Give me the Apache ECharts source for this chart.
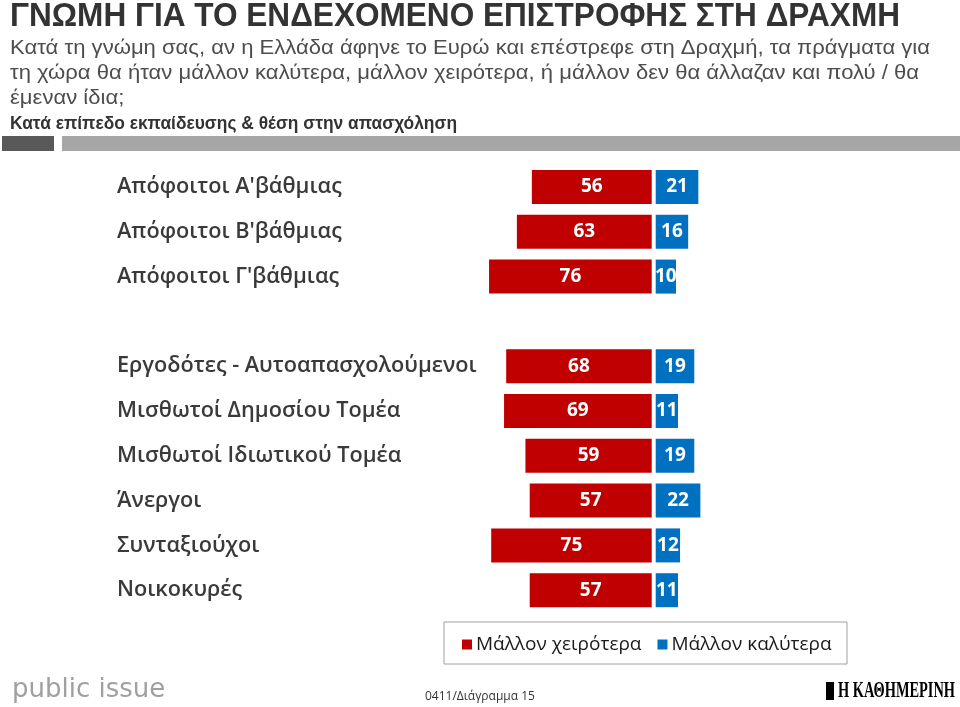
<!DOCTYPE html>
<html>
<head>
<meta charset="utf-8">
<script src="https://cdn.jsdelivr.net/npm/echarts@6/dist/echarts.min.js"></script>
<style>
html,body{margin:0;padding:0;background:#fff;}
#chart{width:960px;height:707px;}
</style>
</head>
<body>
<div id="chart"></div>
<script>
// ---- data ----
const categories = [
  "Απόφοιτοι Α'βάθμιας",
  "Απόφοιτοι Β'βάθμιας",
  "Απόφοιτοι Γ'βάθμιας",
  "",
  "Εργοδότες - Αυτοαπασχολούμενοι",
  "Μισθωτοί Δημοσίου Τομέα",
  "Μισθωτοί Ιδιωτικού Τομέα",
  "Άνεργοι",
  "Συνταξιούχοι",
  "Νοικοκυρές"
];
const worse  = [56, 63, 76, null, 68, 69, 59, 57, 75, 57];
const better = [21, 16, 10, null, 19, 11, 19, 22, 12, 11];
const seriesNames = ["Μάλλον χειρότερα", "Μάλλον καλύτερα"];
const titleText = "ΓΝΩΜΗ ΓΙΑ ΤΟ ΕΝΔΕΧΟΜΕΝΟ ΕΠΙΣΤΡΟΦΗΣ ΣΤΗ ΔΡΑΧΜΗ";
const subtitleLines = [
  "Κατά τη γνώμη σας, αν η Ελλάδα άφηνε το Ευρώ και επέστρεφε στη Δραχμή, τα πράγματα για",
  "τη χώρα θα ήταν μάλλον καλύτερα, μάλλον χειρότερα, ή μάλλον δεν θα άλλαζαν και πολύ / θα",
  "έμεναν ίδια;"
];
const subheadText = "Κατά επίπεδο εκπαίδευσης & θέση στην απασχόληση";
const footerLeft = "public issue";
const footerMid = "0411/Διάγραμμα 15";
const footerRight = "Η ΚΑΘΗΜΕΡΙΝΗ";

// ---- helpers ----
const cv = document.createElement('canvas').getContext('2d');
function fitScale(text, font, target){
  cv.font = font;
  return target / cv.measureText(text).width;
}
const RED = '#C00000', BLUE = '#0070C0';

const titleFont = 'bold 33px "Liberation Sans"';
const subFont = '21px "Liberation Sans"';
const subheadFont = 'bold 18px "Liberation Sans"';
const titleScale = fitScale(titleText, titleFont, 890);
const subScale = fitScale(subtitleLines[0], subFont, 920);
const subheadScale = fitScale(subheadText, subheadFont, 447);
const rightFont = 'bold 24px "Liberation Serif"';
const rightScale = fitScale(footerRight, rightFont, 117);

const graphics = [
  {type:'text', x:10, y:17, scaleX:titleScale, style:{text:titleText, font:titleFont, fill:'#333', textAlign:'left', textVerticalAlign:'middle'}},
  {type:'rect', shape:{x:2, y:136, width:52, height:15}, style:{fill:'#595959'}},
  {type:'rect', shape:{x:62, y:136, width:898, height:15}, style:{fill:'#a6a6a6'}},
  {type:'text', x:10, y:124, scaleX:subheadScale, style:{text:subheadText, font:subheadFont, fill:'#333', textAlign:'left', textVerticalAlign:'middle'}},
  {type:'rect', shape:{x:444, y:622, width:403, height:42}, style:{fill:'#fff', stroke:'#a0a0a0', lineWidth:1}, z:-1},
  {type:'text', x:12, y:690, style:{text:footerLeft, font:'26px "DejaVu Sans"', fill:'#a0a0a0', textAlign:'left', textVerticalAlign:'middle'}},
  {type:'text', x:425, y:697, style:{text:footerMid, font:'12px "Open Sans"', fill:'#333', textAlign:'left', textVerticalAlign:'middle'}},
  {type:'text', x:838, y:691, scaleX:rightScale, style:{text:footerRight, font:rightFont, fill:'#000', textAlign:'left', textVerticalAlign:'middle'}},
  {type:'rect', shape:{x:826, y:682, width:8, height:18}, style:{fill:'#000'}}
];
subtitleLines.forEach((ln, i) => {
  graphics.push({type:'text', x:10, y:48 + i*25, scaleX:subScale, style:{text:ln, font:subFont, fill:'#4d4d4d', textAlign:'left', textVerticalAlign:'middle'}});
});

const gridTop = 164.6, gridH = 448;
const chart = echarts.init(document.getElementById('chart'), null, {renderer:'canvas'});
const labelStyle = {show:true, position:'inside', color:'#fff', fontFamily:'Open Sans', fontWeight:'bold', fontSize:19};

chart.setOption({
  animation:false,
  backgroundColor:'#fff',
  graphic: graphics,
  legend:{
    data: seriesNames,
    left: 457, top: 630,
    icon:'rect', itemWidth:10, itemHeight:10, itemGap:16,
    textStyle:{fontFamily:'Open Sans', fontSize:19, color:'#1a1a1a', padding:[0,0,0,-1]}
  },
  grid:[
    {left:437.7, width:214, top:gridTop, height:gridH, containLabel:false},
    {left:655.7, width:203, top:gridTop, height:gridH, containLabel:false}
  ],
  xAxis:[
    {gridIndex:0, type:'value', min:0, max:100, inverse:true, show:false},
    {gridIndex:1, type:'value', min:0, max:100, show:false}
  ],
  yAxis:[
    {gridIndex:0, type:'category', data:categories, inverse:true,
     axisLine:{show:false}, axisTick:{show:false}, splitLine:{show:false},
     axisLabel:{align:'left', margin:320.7, fontFamily:'Open Sans', fontWeight:600, fontSize:21.7, color:'#3a3a3a'}},
    {gridIndex:1, type:'category', data:categories, inverse:true, show:false}
  ],
  series:[
    {name:seriesNames[0], type:'bar', xAxisIndex:0, yAxisIndex:0, data:worse, barWidth:34,
     itemStyle:{color:RED}, label:labelStyle},
    {name:seriesNames[1], type:'bar', xAxisIndex:1, yAxisIndex:1, data:better, barWidth:34,
     itemStyle:{color:BLUE}, label:labelStyle}
  ]
});
</script>
</body>
</html>
